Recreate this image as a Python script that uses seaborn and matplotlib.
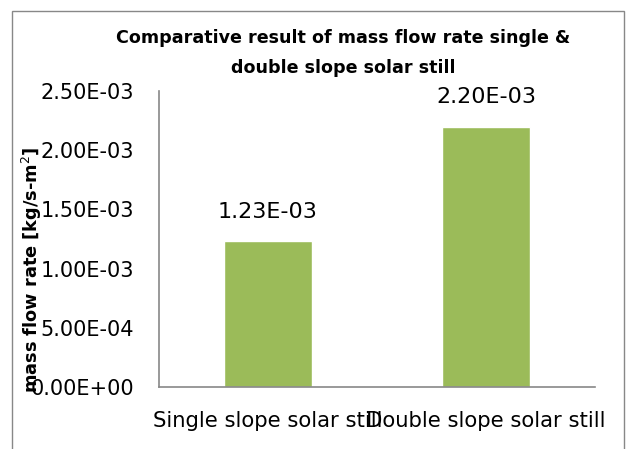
import numpy as np
import pandas as pd
import seaborn as sns
import matplotlib.pyplot as plt
from matplotlib.patches import Rectangle

# data
stills = ["Single slope solar still", "Double slope solar still"]
mass_flow = [1.23e-3, 2.20e-3]
y_ticks = [0.0, 5e-4, 1e-3, 1.5e-3, 2e-3, 2.5e-3]
y_tick_labels = ["0.00E+00", "5.00E-04", "1.00E-03", "1.50E-03", "2.00E-03", "2.50E-03"]

df = pd.DataFrame({"still": stills, "flow": mass_flow})

sns.set_style("white")
plt.rcParams["font.family"] = ["DejaVu Sans"]
plt.rcParams["text.color"] = "black"
plt.rcParams["xtick.color"] = "black"
plt.rcParams["ytick.color"] = "black"

fig = plt.figure(figsize=(6.27, 4.49), dpi=100)
ax = fig.add_axes([159 / 627, 1 - 387 / 449, (595 - 159) / 627, (387 - 91) / 449])

sns.barplot(data=df, x="still", y="flow", color="#9BBB59", width=0.4,
            saturation=1, ax=ax)

for p, v in zip(ax.patches, mass_flow):
    ax.annotate(f"{v:.2E}", (p.get_x() + p.get_width() / 2, v),
                xytext=(0, 21), textcoords="offset points",
                ha="center", va="center", fontsize=16)

ax.set_xlim(-0.5, 1.5)
ax.set_ylim(0, 2.5e-3)
ax.set_yticks(y_ticks)
ax.set_yticklabels(y_tick_labels)
ax.tick_params(axis="y", length=0, pad=18, labelsize=15)
ax.tick_params(axis="x", length=0, pad=17, labelsize=15.2)
ax.set_xlabel("")
ax.set_ylabel("")

sns.despine(ax=ax)
for s in ["left", "bottom"]:
    ax.spines[s].set_color("#888888")
    ax.spines[s].set_linewidth(1.2)

fig.text(32 / 627, 1 - 270 / 449, "mass flow rate [kg/s-m$^2$]", rotation=90,
         ha="center", va="center", fontsize=12.8, fontweight="bold")

fig.text(343 / 627, 1 - 38 / 449, "Comparative result of mass flow rate single &",
         ha="center", va="center", fontsize=12.6, fontweight="bold")
fig.text(343 / 627, 1 - 68 / 449, "double slope solar still",
         ha="center", va="center", fontsize=12.6, fontweight="bold")

# chart-area border
fig.patches.append(Rectangle((12 / 627, -0.05), (624 - 12) / 627, 1 - 11 / 449 + 0.05,
                             transform=fig.transFigure, fill=False,
                             edgecolor="#888888", linewidth=1.0))

fig.savefig("out.png", dpi=100)
